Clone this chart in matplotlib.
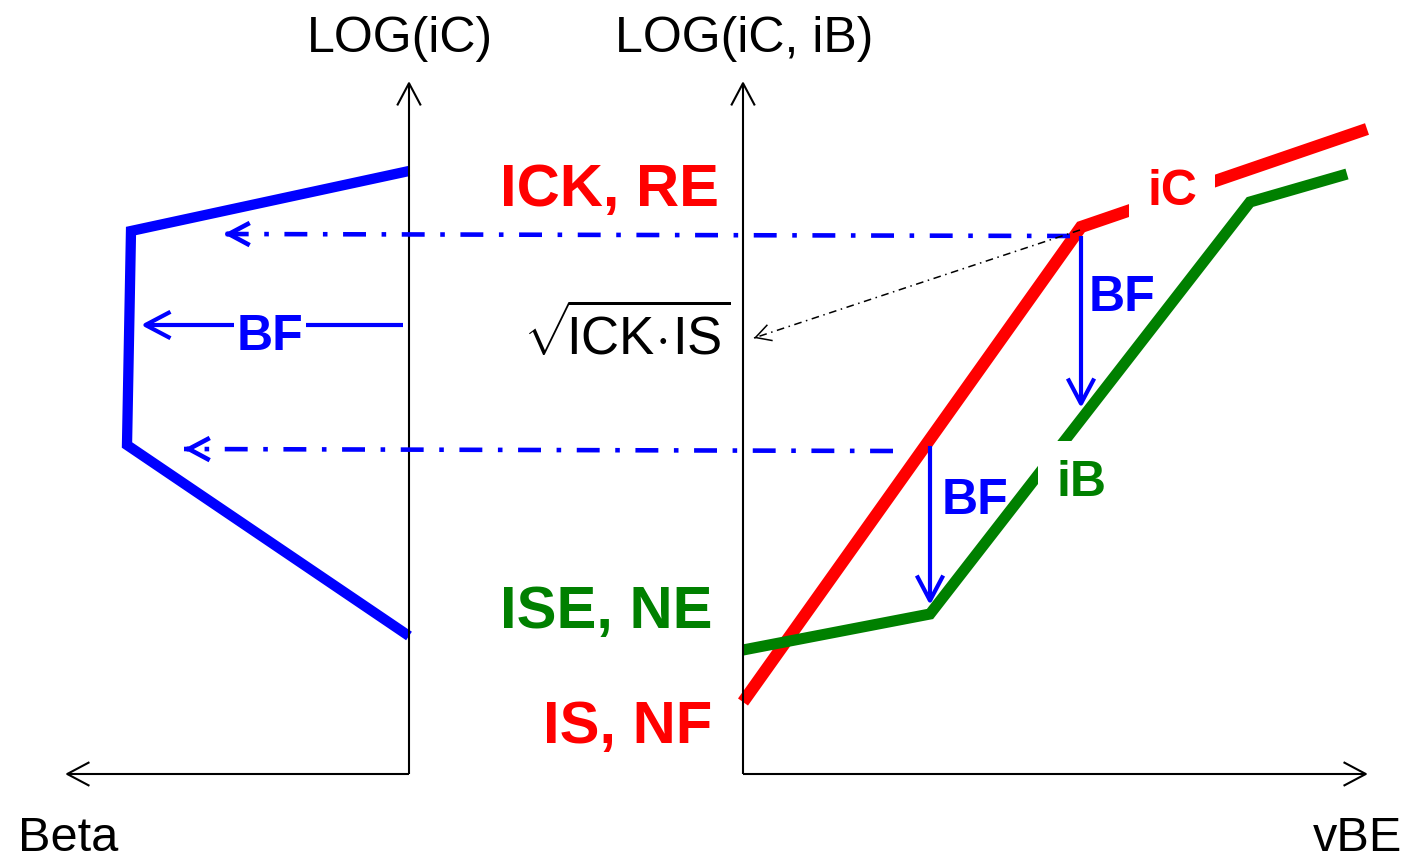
import matplotlib
matplotlib.use("Agg")
import matplotlib.pyplot as plt
from matplotlib.patches import FancyArrowPatch

plt.rcParams['font.family'] = ['Liberation Sans', 'DejaVu Sans']
plt.rcParams['mathtext.fontset'] = 'custom'
plt.rcParams['mathtext.rm'] = 'Liberation Sans'

# curve vertices (drawing units, y grows downward)
beta_x = [409, 131, 127, 409]
beta_y = [172, 232, 446, 637]
ic_x = [743, 1081, 1367]
ic_y = [703, 228, 130]
ib_x = [743, 930, 1250, 1347]
ib_y = [651, 615, 203, 175]

# axes of the two panels
beta_axis_x = 409
vbe_axis_x = 743
axis_base = 775
axis_top = 82
beta_axis_end = 65
vbe_axis_end = 1368

# projections of the knee points onto the beta curve
proj_start = [(1070, 237), (893, 452)]
proj_end = [(224, 235), (184, 450)]

# BF arrows: (start, end)
bf_arrows = [((403, 326), (141, 326)),
             ((1081, 237), (1081, 409)),
             ((930, 447), (930, 606))]
sqrt_arrow = ((1080, 231), (754, 339))

BLUE = '#0000ff'
RED = '#ff0000'
GREEN = '#008000'

fig = plt.figure(figsize=(14.08, 8.62), dpi=100)
ax = fig.add_axes([0, 0, 1, 1])
ax.set_xlim(0, 1408)
ax.set_ylim(862, 0)
ax.axis('off')


def arrow(p0, p1, color, lw, hl, hw, z=3):
    a = FancyArrowPatch(p0, p1, arrowstyle=f'->,head_length={hl},head_width={hw}',
                        mutation_scale=1, color=color, lw=lw,
                        shrinkA=0, shrinkB=0, zorder=z, capstyle='butt')
    ax.add_patch(a)


def dashed_arrow(p0, p1, color, lw, hl, hw, dashes, z=3):
    # dashed shaft, solid open head
    ax.plot([p0[0], p1[0]], [p0[1], p1[1]], color=color, lw=lw,
            linestyle=dashes, dash_capstyle='butt', zorder=z)
    f = 0.005
    near = (p1[0] + (p0[0] - p1[0]) * f, p1[1] + (p0[1] - p1[1]) * f)
    arrow(near, p1, color, lw, hl, hw, z=z)


# axes
for x0 in (beta_axis_x, vbe_axis_x):
    arrow((x0, axis_base), (x0, axis_top), 'black', 1.5, 16, 8.5)
arrow((beta_axis_x, axis_base), (beta_axis_end, axis_base), 'black', 1.5, 16, 8.5)
arrow((vbe_axis_x, axis_base), (vbe_axis_end, axis_base), 'black', 1.5, 16, 8.5)

# curves
ax.plot(beta_x, beta_y, color=BLUE, lw=7.4, solid_joinstyle='miter',
        solid_capstyle='butt', zorder=2)
ax.plot(ic_x, ic_y, color=RED, lw=8.8, solid_joinstyle='miter',
        solid_capstyle='butt', zorder=2)
ax.plot(ib_x, ib_y, color=GREEN, lw=8.0, solid_joinstyle='miter',
        solid_capstyle='butt', zorder=2.1)

# dash-dot projections
for p0, p1 in zip(proj_start, proj_end):
    dashed_arrow(p0, p1, BLUE, 3.3, 15, 8, (0, (5, 3.4, 1, 3.4)))

# BF arrows
for p0, p1 in bf_arrows:
    arrow(p0, p1, BLUE, 3.0, 18, 9.5, z=3.5)

dashed_arrow(sqrt_arrow[0], sqrt_arrow[1], 'black', 1.1, 11, 6,
             (0, (5, 3, 1, 3)))

# text labels
ax.text(400, 52, 'LOG(iC)', fontsize=36, ha='center', va='baseline')
ax.text(744, 52, 'LOG(iC, iB)', fontsize=36, ha='center', va='baseline')
ax.text(68, 861, 'Beta', fontsize=35, ha='center', va='bottom')
ax.text(1358, 861, 'vBE', fontsize=35, ha='center', va='bottom')

ax.text(609, 206, 'ICK, RE', fontsize=43, fontweight='bold', color=RED,
        ha='center', va='baseline')
ax.text(606, 628, 'ISE, NE', fontsize=43, fontweight='bold', color=GREEN,
        ha='center', va='baseline')
ax.text(628, 743, 'IS, NF', fontsize=43, fontweight='bold', color=RED,
        ha='center', va='baseline')
ax.text(627, 355, r'$\sqrt{\!\mathrm{ICK}\!\cdot\!\mathrm{IS}}$', fontsize=38,
        ha='center', va='baseline')

white = dict(facecolor='white', edgecolor='none')
ax.text(270, 350, 'BF', fontsize=36, fontweight='bold', color=BLUE,
        ha='center', va='baseline', zorder=4, bbox=dict(white, pad=2))
ax.text(1122, 311, 'BF', fontsize=36, fontweight='bold', color=BLUE,
        ha='center', va='baseline', zorder=4)
ax.text(975, 514, 'BF', fontsize=36, fontweight='bold', color=BLUE,
        ha='center', va='baseline', zorder=4)
ax.text(1172, 205, 'iC', fontsize=36, fontweight='bold', color=RED,
        ha='center', va='baseline', zorder=4, bbox=dict(white, pad=13))
ax.text(1081, 496, 'iB', fontsize=36, fontweight='bold', color=GREEN,
        ha='center', va='baseline', zorder=4, bbox=dict(white, pad=13))

fig.savefig('out.png', dpi=100, facecolor='white')
